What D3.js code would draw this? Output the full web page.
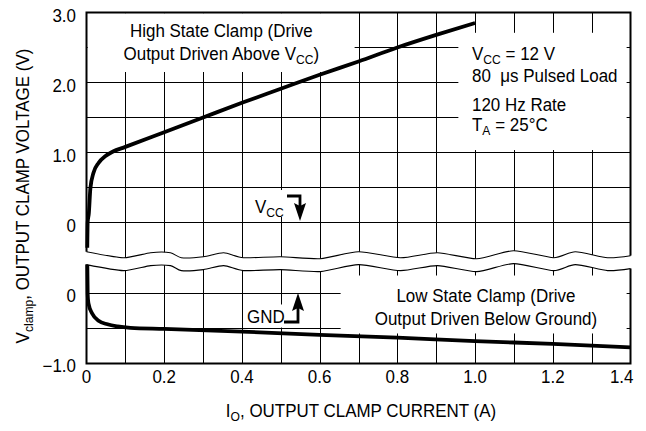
<!DOCTYPE html>
<html><head><meta charset="utf-8">
<script src="https://cdn.jsdelivr.net/npm/d3@7"></script>
<style>
body{margin:0;background:#fff}
svg{display:block}
text{font-family:"Liberation Sans",Arial,Helvetica,sans-serif;fill:#000;white-space:pre}
</style>
</head><body>
<svg id="c" width="646" height="431"></svg>
<script>
// ---------------- data ----------------
const currentTicks = [0, 0.2, 0.4, 0.6, 0.8, 1.0, 1.2, 1.4];
const currentTickLabels = ["0", "0.2", "0.4", "0.6", "0.8", "1.0", "1.2", "1.4"];
const upperVoltTicks = [0, 1, 2, 3];
const upperVoltLabels = ["0", "1.0", "2.0", "3.0"];
const lowerVoltTicks = [-1, 0];
const lowerVoltLabels = ["\u22121.0", "0"];

// High State Clamp (output driven above VCC), volts relative to VCC
const highCurrent = [0.002, 0.003, 0.006, 0.010, 0.018, 0.031, 0.049, 0.067, 0.1, 0.2, 0.3, 0.4, 0.5, 0.6, 0.7, 0.8, 0.9, 1.0];
const highVoltage = [-0.36, 0.0, 0.13, 0.49, 0.71, 0.85, 0.95, 1.01, 1.08, 1.29, 1.5, 1.71, 1.91, 2.11, 2.3, 2.5, 2.68, 2.85];

// Low State Clamp (output driven below ground), volts relative to GND
const lowCurrent = [0.002, 0.003, 0.005, 0.015, 0.031, 0.054, 0.08, 0.113, 0.2, 0.4, 0.6, 0.8, 1.0, 1.2, 1.4];
const lowVoltage = [0.45, 0.0, -0.14, -0.29, -0.39, -0.44, -0.47, -0.49, -0.505, -0.545, -0.59, -0.63, -0.68, -0.72, -0.77];

// axis-break wave (decoration): current positions and pixel wiggle
const breakCurrent = [0, 0.095, 0.165, 0.216, 0.244, 0.301, 0.353, 0.404, 0.499, 0.602, 0.7, 0.808, 0.903, 1.004, 1.099, 1.202, 1.258, 1.341, 1.4];
const breakWiggle  = [-3, 3, -2, -2, 3, 2, -2, 3, 2, 4, -3, 3, -2, 4, -4, 3, -3, 3, 1];

(function () {
// ---------------- layout ----------------
const svg = d3.select("#c");
const x = d3.scaleLinear().domain([0, 1.4]).range([86.5, 630.5]);
const yU = d3.scaleLinear().domain([0, 3]).range([222.5, 12.5]);
const yL = d3.scaleLinear().domain([-1, 0]).range([363.5, 293.5]);
const pL = x(0), pR = x(1.4), pT = yU(3), pB = yL(-1);
const waveUBase = yU(-0.46), waveLBase = yL(0.37);

svg.append("rect").attr("width", 646).attr("height", 431).attr("fill", "#fff");

const wavePts = (base, ext) => {
  const pts = breakCurrent.map((c, i) => [x(c), base + breakWiggle[i]]);
  if (ext) { pts.unshift([pL - 4, pts[0][1]]); pts.push([pR + 4, pts[pts.length - 1][1]]); }
  return pts;
};
const waveLine = d3.line().curve(d3.curveCardinal.tension(0.3));

const defs = svg.append("defs");
defs.append("clipPath").attr("id", "clipU").append("path")
  .attr("d", waveLine(wavePts(waveUBase, true)) + `L${pR + 4},${pT - 4}L${pL - 4},${pT - 4}Z`);
defs.append("clipPath").attr("id", "clipL").append("path")
  .attr("d", waveLine(wavePts(waveLBase, true)) + `L${pR + 4},${pB + 4}L${pL - 4},${pB + 4}Z`);

const gU = svg.append("g").attr("clip-path", "url(#clipU)");
const gL = svg.append("g").attr("clip-path", "url(#clipL)");

const gridCur = d3.range(1, 14).map(i => i / 10);
[gU, gL].forEach(g => {
  g.selectAll("line.v").data(gridCur).join("line").attr("class", "v")
    .attr("x1", d => Math.round(x(d)) + 0.5).attr("x2", d => Math.round(x(d)) + 0.5)
    .attr("y1", pT).attr("y2", pB)
    .attr("stroke", "#000").attr("stroke-width", 1);
});
const gridU = [0, 0.5, 1, 1.5, 2, 2.5];
gU.selectAll("line.h").data(gridU).join("line").attr("class", "h")
  .attr("x1", pL).attr("x2", pR)
  .attr("y1", d => yU(d)).attr("y2", d => yU(d))
  .attr("stroke", "#000").attr("stroke-width", 1);
const gridL = [-0.5, 0];
gL.selectAll("line.h").data(gridL).join("line").attr("class", "h")
  .attr("x1", pL).attr("x2", pR)
  .attr("y1", d => yL(d)).attr("y2", d => yL(d))
  .attr("stroke", "#000").attr("stroke-width", 1);

// white label boxes covering the grid
const boxesU = [[0.003, 0.69, 2.15, 2.99], [0.957, 1.39, 1.035, 2.71], [0.42, 0.566, 0.079, 0.464]];
boxesU.forEach(b => gU.append("rect")
  .attr("x", x(b[0])).attr("width", x(b[1]) - x(b[0]))
  .attr("y", yU(b[3])).attr("height", yU(b[2]) - yU(b[3])).attr("fill", "#fff"));
const boxesL = [[0.654, 1.39, -0.571, 0.257], [0.409, 0.564, -0.486, -0.157]];
boxesL.forEach(b => gL.append("rect")
  .attr("x", x(b[0])).attr("width", x(b[1]) - x(b[0]))
  .attr("y", yL(b[3])).attr("height", yL(b[2]) - yL(b[3])).attr("fill", "#fff"));

// frame
[gU, gL].forEach(g => g.append("rect")
  .attr("x", pL).attr("y", pT).attr("width", pR - pL).attr("height", pB - pT)
  .attr("fill", "none").attr("stroke", "#000").attr("stroke-width", 2));

// break wave lines
[waveUBase, waveLBase].forEach(b => svg.append("path")
  .attr("d", waveLine(wavePts(b, false)))
  .attr("fill", "none").attr("stroke", "#000").attr("stroke-width", 1.1));

// curves
const curve = d3.line().curve(d3.curveMonotoneX);
gU.append("path")
  .attr("d", curve(highCurrent.map((c, i) => [x(c), yU(highVoltage[i])])))
  .attr("fill", "none").attr("stroke", "#000").attr("stroke-width", 3.8);
gL.append("path")
  .attr("d", curve(lowCurrent.map((c, i) => [x(c), yL(lowVoltage[i])])))
  .attr("fill", "none").attr("stroke", "#000").attr("stroke-width", 3.8);

// text helper: slightly condensed type, parts may carry subscripts
const FS = 17.5, SUB = 12.5, SX = 0.97, SD = 3.5;
function label(tx, ty, anchor, parts, extra) {
  const t = svg.append("text")
    .attr("transform", `translate(${tx},${ty})${extra || ""} scale(${SX},1)`)
    .attr("text-anchor", anchor).attr("font-size", FS);
  let shifted = false;
  parts.forEach(p => {
    const sub = typeof p !== "string";
    const s = t.append("tspan").text(sub ? p.sub : p);
    if (sub && !shifted) { s.attr("font-size", SUB).attr("dy", SD); shifted = true; }
    else if (sub) s.attr("font-size", SUB);
    else if (shifted) { s.attr("dy", -SD); shifted = false; }
  });
  return t;
}

// tick labels
currentTicks.forEach((d, i) => {
  const last = i === currentTicks.length - 1;
  label(last ? x(d) + 3 : x(d), 383, last ? "end" : "middle", [currentTickLabels[i]]);
});
upperVoltTicks.forEach((d, i) => label(76, yU(d) + 9, "end", [upperVoltLabels[i]]));
lowerVoltTicks.forEach((d, i) => label(76, yL(d) + 8, "end", [lowerVoltLabels[i]]));

// axis titles
label(361, 417, "middle", ["I", {sub: "O"}, ", OUTPUT CLAMP CURRENT (A)"]);
label(29, 196, "middle", ["V", {sub: "clamp"}, ", OUTPUT CLAMP VOLTAGE (V)"], " rotate(-90)");

// annotations
const hx = x(0.347);
label(hx, 37, "middle", ["High State Clamp (Drive"]);
label(hx, 60, "middle", ["Output Driven Above V", {sub: "CC"}, ")"]);

const rx = 472;
label(rx, 60, "start", ["V", {sub: "CC"}, " = 12 V"]);
label(rx, 82, "start", ["80  \u03bcs Pulsed Load"]);
label(rx, 110.5, "start", ["120 Hz Rate"]);
label(rx, 131, "start", ["T", {sub: "A"}, " = 25\u00b0C"]);

const lx = x(1.028);
label(lx, 302, "middle", ["Low State Clamp (Drive"]);
label(lx, 325, "middle", ["Output Driven Below Ground)"]);

// VCC arrow label
label(255, 213, "start", ["V", {sub: "CC"}]);
const ax1 = 300;
svg.append("path").attr("d", `M287,196H${ax1}V207`).attr("fill", "none").attr("stroke", "#000").attr("stroke-width", 2.8);
svg.append("path").attr("d", `M${ax1 - 6},203L${ax1},221L${ax1 + 6},203L${ax1},206Z`).attr("fill", "#000");

// GND arrow label
label(247, 323, "start", ["GND"]);
const ax2 = 298;
svg.append("path").attr("d", `M284,322H${ax2}V308`).attr("fill", "none").attr("stroke", "#000").attr("stroke-width", 2.8);
svg.append("path").attr("d", `M${ax2 - 6},311L${ax2},293L${ax2 + 6},311L${ax2},308Z`).attr("fill", "#000");
})();
</script>
</body></html>
